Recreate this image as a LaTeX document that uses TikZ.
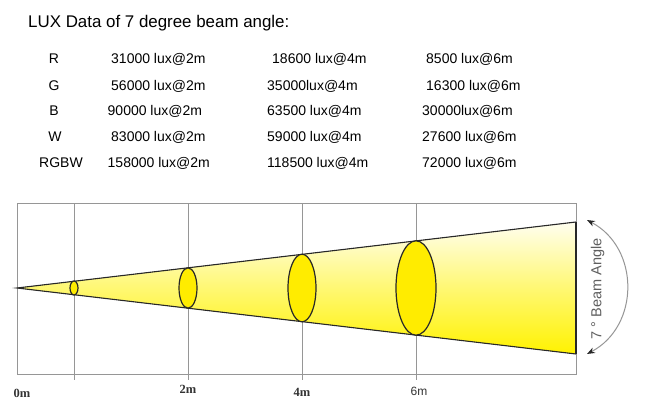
\documentclass[tikz,border=0pt]{standalone}
\usepackage{fontspec}
\setmainfont{Liberation Sans}
\newfontfamily\labserif{Liberation Serif}
\usetikzlibrary{arrows.meta}
\definecolor{beamyellow}{RGB}{255,242,0}
\definecolor{ellyellow}{RGB}{255,236,0}
\definecolor{gridgray}{RGB}{150,150,150}
\definecolor{edgedark}{RGB}{40,40,40}
\definecolor{anglegray}{RGB}{95,95,95}
\tikzset{
  titletext/.style={font=\fontsize{16.9}{20}\selectfont, inner sep=0pt, anchor=base west},
  tbl/.style={font=\fontsize{14}{16}\selectfont, inner sep=0pt, anchor=base west},
  tblc/.style={font=\fontsize{14}{16}\selectfont, inner sep=0pt, anchor=base},
  gridline/.style={draw=gridgray, line width=1pt},
  beamedge/.style={draw=edgedark, line width=1.1pt},
  spot/.style={draw=edgedark, line width=1.2pt, fill=ellyellow},
  distlab/.style={font=\labserif\bfseries\fontsize{12.5}{14}\selectfont, text=black!80, inner sep=0pt, anchor=base},
  distlabsans/.style={font=\fontsize{12}{14}\selectfont, text=black!80, inner sep=0pt, anchor=base},
  arcline/.style={draw=gridgray, line width=1pt, {Stealth[length=8pt,width=6pt,color=edgedark,fill=edgedark]}-{Stealth[length=8pt,width=6pt,color=edgedark,fill=edgedark]}}
}
\begin{document}
\begin{tikzpicture}[x=1pt,y=-1pt]
\useasboundingbox[fill=white] (0,0) rectangle (646,404);

% title and table
\node[titletext] (title) at (28,27.5) {LUX Data of 7 degree beam angle:};

\node[tblc] (lR) at (54,63.5) {R};
\node[tbl] (aR) at (111,63.5) {31000 lux@2m};
\node[tbl] (bR) at (272,63.5) {18600 lux@4m};
\node[tbl] (cR) at (426,63.5) {8500 lux@6m};

\node[tblc] (lG) at (54,91) {G};
\node[tbl] (aG) at (111,91) {56000 lux@2m};
\node[tbl] (bG) at (267,91) {35000lux@4m};
\node[tbl] (cG) at (426,91) {16300 lux@6m};

\node[tblc] (lB) at (54,116) {B};
\node[tbl] (aB) at (107.5,116) {90000 lux@2m};
\node[tbl] (bB) at (267,116) {63500 lux@4m};
\node[tbl] (cB) at (422,116) {30000lux@6m};

\node[tblc] (lW) at (55,142) {W};
\node[tbl] (aW) at (111,142) {83000 lux@2m};
\node[tbl] (bW) at (267,142) {59000 lux@4m};
\node[tbl] (cW) at (422,142) {27600 lux@6m};

\node[tblc] (lRGBW) at (61,167.5) {RGBW};
\node[tbl] (aRGBW) at (107.5,167.5) {158000 lux@2m};
\node[tbl] (bRGBW) at (267,167.5) {118500 lux@4m};
\node[tbl] (cRGBW) at (422,167.5) {72000 lux@6m};

% frame and grid
\draw[gridline] (17,203) rectangle (576,374);
\foreach \x in {74,188,302,416} {
  \draw[gridline] (\x,203) -- (\x,380);
}

% beam
\coordinate (apex) at (17,288);
\coordinate (btop) at (576,222);
\coordinate (bbot) at (576,354);
\fill[top color=beamyellow!6, bottom color=beamyellow, middle color=beamyellow!55]
  (apex) -- (btop) -- (bbot) -- cycle;
\draw[beamedge] (btop) -- (apex) -- (bbot);
\draw[beamedge] (btop) -- (bbot);

% light spots
\draw[spot] (74,288) ellipse [x radius=4, y radius=7];
\draw[spot] (188,288) ellipse [x radius=9, y radius=20.2];
\draw[spot] (302,288) ellipse [x radius=14, y radius=33.8];
\draw[spot] (416,288) ellipse [x radius=20, y radius=47.2];

% distance labels
\node[distlab] (d0) at (22,397) {0m};
\node[distlab] (d2) at (188,393) {2m};
\node[distlab] (d4) at (302,396) {4m};
\node[distlabsans] (d6) at (419,395) {6m};

% beam angle
\coordinate (arcT) at (587,220);
\coordinate (arcB) at (587,354);
\draw[arcline] (arcT) .. controls (640,248) and (640,326) .. (arcB);
\node[rotate=90, font=\fontsize{14.5}{16}\selectfont, text=anglegray, inner sep=0pt] (ang) at (597.5,289) {7 \textdegree\ Beam Angle};
\end{tikzpicture}
\end{document}
